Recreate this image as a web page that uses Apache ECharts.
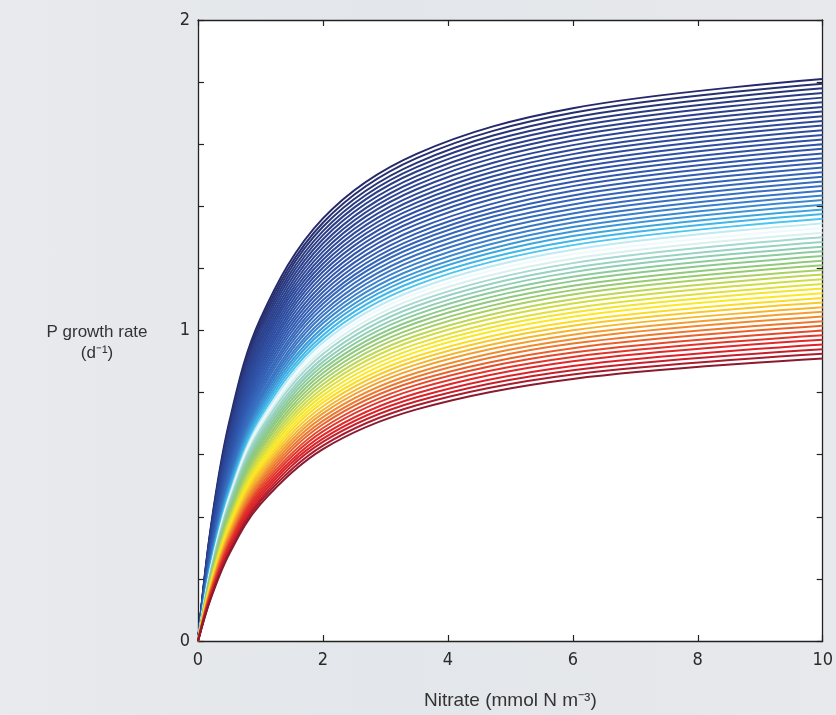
<!DOCTYPE html>
<html>
<head>
<meta charset="utf-8">
<script src="https://cdn.jsdelivr.net/npm/echarts@6/dist/echarts.min.js"></script>
<style>
  html, body { margin: 0; padding: 0; }
  body { background: linear-gradient(90deg, #e8eaed 0%, #e3e6ea 45%, #e7e9ec 100%); }
  #chart { width: 836px; height: 715px; }
</style>
</head>
<body>
<div id="chart"></div>
<script>
const NITRATE = [0.2, 0.5, 1, 2, 3.5, 6, 10];
const ORIGIN_RATE = 0; // every curve starts at the origin

// P growth rate (d-1) of each curve, top (dark blue) to bottom (dark red)
const RATE_AT_0_2 = [
  0.359, 0.354, 0.350, 0.345, 0.341, 0.337, 0.332, 0.328, 0.323, 0.319,
  0.315, 0.311, 0.306, 0.302, 0.298, 0.294, 0.290, 0.286, 0.282, 0.278,
  0.274, 0.270, 0.266, 0.262, 0.258, 0.254, 0.250, 0.246, 0.242, 0.239,
  0.235, 0.231, 0.228, 0.224, 0.220, 0.217, 0.213, 0.209, 0.206, 0.202,
  0.199, 0.195, 0.192, 0.188, 0.185, 0.182, 0.178, 0.175, 0.172, 0.168,
  0.165, 0.162, 0.159, 0.156, 0.152, 0.149, 0.146, 0.143, 0.140, 0.137,
  0.134
];
const RATE_AT_0_5 = [
  0.705, 0.696, 0.688, 0.680, 0.672, 0.664, 0.656, 0.648, 0.640, 0.632,
  0.624, 0.616, 0.608, 0.600, 0.593, 0.585, 0.577, 0.570, 0.562, 0.555,
  0.547, 0.540, 0.532, 0.525, 0.517, 0.510, 0.503, 0.496, 0.489, 0.481,
  0.474, 0.467, 0.460, 0.453, 0.446, 0.439, 0.433, 0.426, 0.419, 0.412,
  0.406, 0.399, 0.392, 0.386, 0.379, 0.373, 0.366, 0.360, 0.354, 0.347,
  0.341, 0.335, 0.329, 0.322, 0.316, 0.310, 0.304, 0.298, 0.292, 0.286,
  0.280
];
const RATE_AT_1 = [
  1.038, 1.027, 1.016, 1.005, 0.994, 0.982, 0.971, 0.960, 0.949, 0.939,
  0.928, 0.917, 0.906, 0.895, 0.885, 0.874, 0.863, 0.853, 0.842, 0.832,
  0.821, 0.811, 0.801, 0.790, 0.780, 0.770, 0.760, 0.750, 0.740, 0.730,
  0.720, 0.710, 0.700, 0.690, 0.680, 0.670, 0.661, 0.651, 0.641, 0.632,
  0.622, 0.613, 0.603, 0.594, 0.585, 0.575, 0.566, 0.557, 0.548, 0.539,
  0.529, 0.520, 0.511, 0.502, 0.494, 0.485, 0.476, 0.467, 0.458, 0.450,
  0.441
];
const RATE_AT_2 = [
  1.361, 1.347, 1.334, 1.320, 1.307, 1.294, 1.280, 1.267, 1.254, 1.241,
  1.228, 1.215, 1.202, 1.189, 1.176, 1.163, 1.150, 1.137, 1.124, 1.111,
  1.098, 1.086, 1.073, 1.060, 1.048, 1.035, 1.023, 1.010, 0.998, 0.985,
  0.973, 0.961, 0.948, 0.936, 0.924, 0.911, 0.899, 0.887, 0.875, 0.863,
  0.851, 0.839, 0.827, 0.815, 0.803, 0.791, 0.779, 0.768, 0.756, 0.744,
  0.733, 0.721, 0.709, 0.698, 0.686, 0.675, 0.663, 0.652, 0.641, 0.629,
  0.618
];
const RATE_AT_3_5 = [
  1.569, 1.555, 1.540, 1.526, 1.512, 1.497, 1.483, 1.469, 1.455, 1.440,
  1.426, 1.412, 1.398, 1.384, 1.370, 1.356, 1.342, 1.327, 1.313, 1.299,
  1.286, 1.272, 1.258, 1.244, 1.230, 1.216, 1.202, 1.188, 1.175, 1.161,
  1.147, 1.133, 1.120, 1.106, 1.092, 1.079, 1.065, 1.052, 1.038, 1.025,
  1.011, 0.998, 0.984, 0.971, 0.957, 0.944, 0.931, 0.917, 0.904, 0.891,
  0.878, 0.864, 0.851, 0.838, 0.825, 0.812, 0.798, 0.785, 0.772, 0.759,
  0.746
];
const RATE_AT_6 = [
  1.716, 1.701, 1.686, 1.671, 1.656, 1.641, 1.627, 1.612, 1.597, 1.582,
  1.568, 1.553, 1.538, 1.523, 1.509, 1.494, 1.479, 1.465, 1.450, 1.435,
  1.421, 1.406, 1.391, 1.377, 1.362, 1.348, 1.333, 1.319, 1.304, 1.289,
  1.275, 1.260, 1.246, 1.231, 1.217, 1.202, 1.188, 1.173, 1.159, 1.144,
  1.130, 1.116, 1.101, 1.087, 1.072, 1.058, 1.044, 1.029, 1.015, 1.001,
  0.986, 0.972, 0.958, 0.943, 0.929, 0.915, 0.901, 0.886, 0.872, 0.858,
  0.844
];
const RATE_AT_10 = [
  1.810, 1.795, 1.780, 1.765, 1.750, 1.735, 1.720, 1.705, 1.690, 1.675,
  1.660, 1.645, 1.630, 1.615, 1.600, 1.585, 1.570, 1.555, 1.540, 1.525,
  1.510, 1.495, 1.480, 1.465, 1.450, 1.435, 1.420, 1.405, 1.390, 1.375,
  1.360, 1.345, 1.330, 1.315, 1.300, 1.285, 1.270, 1.255, 1.240, 1.225,
  1.210, 1.195, 1.180, 1.165, 1.150, 1.135, 1.120, 1.105, 1.090, 1.075,
  1.060, 1.045, 1.030, 1.015, 1.000, 0.985, 0.970, 0.955, 0.940, 0.925,
  0.910
];
const RATE_COLUMNS = [RATE_AT_0_2, RATE_AT_0_5, RATE_AT_1, RATE_AT_2, RATE_AT_3_5, RATE_AT_6, RATE_AT_10];

const X_TICKS = { min: 0, max: 10, step: 2 };
const Y_TICKS = { min: 0, max: 2, step: 0.2 };

// one colour per curve, same order as the rate arrays
const CURVE_COLORS = [
  '#25286a', '#27306f', '#283575',
  '#2a3a80', '#2b3d86', '#2b3f8a', '#2c428e', '#2c4492', '#2c4695', '#2d4898',
  '#2d4a9b', '#2e4c9e', '#2e4ea1', '#2f50a4', '#2f52a6', '#3054a9',
  '#3057ac', '#315aaf', '#325db2', '#3360b5', '#3464b8', '#3568bb', '#366cbe', '#3770c1', '#3874c4',
  '#3a7fca', '#3b8ad0', '#3c96d6',
  '#3ba6de', '#40b6e8', '#4cc5ef',
  '#bfe9f3', '#eef9fb', '#d9f0ee',
  '#a5d8cf', '#98d2c2', '#90cdb2',
  '#8ccb9c', '#8cc98a', '#90c97c', '#98cb70', '#a8d065',
  '#bcd656', '#cfdc45', '#e0e03a',
  '#f2e52a', '#fce81f', '#fbdc22',
  '#f8c929', '#f5b52d',
  '#f29f30', '#ef8a2f', '#ec772d', '#e9622c',
  '#e5492b', '#e2352a', '#df2829', '#dc2228',
  '#c41f2b', '#a91c2d', '#8c1a2e'
];

const chart = echarts.init(document.getElementById('chart'));

const tickFont = {
  fontFamily: '"Liberation Sans Narrow", "Arial Narrow", "DejaVu Sans Condensed", sans-serif',
  fontSize: 18,
  color: '#2a2a2a'
};
const frameLine = { show: true, onZero: false, lineStyle: { color: '#222', width: 1.3 } };
const innerTick = { show: true, inside: true, length: 6, lineStyle: { color: '#222', width: 1.2 } };

const series = RATE_AT_10.map((_, i) => ({
  type: 'line',
  data: [[0, ORIGIN_RATE]].concat(NITRATE.map((n, j) => [n, RATE_COLUMNS[j][i]])),
  smooth: 0.35,
  symbol: 'none',
  silent: true,
  lineStyle: { width: 2, color: CURVE_COLORS[i] }
}));

chart.setOption({
  animation: false,
  backgroundColor: 'transparent',
  grid: {
    left: 198, right: 13, top: 20, bottom: 72,
    show: true, backgroundColor: '#ffffff', borderWidth: 0
  },
  xAxis: [
    {
      type: 'value', position: 'bottom',
      min: X_TICKS.min, max: X_TICKS.max, interval: X_TICKS.step,
      axisLine: frameLine, axisTick: innerTick,
      axisLabel: Object.assign({ margin: 10 }, tickFont),
      splitLine: { show: false },
      name: 'Nitrate (mmol N m\u207B\u00B3)',
      nameLocation: 'middle', nameGap: 50,
      nameTextStyle: { fontFamily: '"Liberation Sans", Arial, sans-serif', fontSize: 19, color: '#333' }
    },
    {
      type: 'value', position: 'top',
      min: X_TICKS.min, max: X_TICKS.max, interval: X_TICKS.step,
      axisLine: frameLine, axisTick: innerTick,
      axisLabel: { show: false }, splitLine: { show: false }
    }
  ],
  yAxis: [
    {
      type: 'value', position: 'left',
      min: Y_TICKS.min, max: Y_TICKS.max, interval: Y_TICKS.step,
      axisLine: frameLine, axisTick: innerTick,
      axisLabel: Object.assign({
        margin: 8,
        formatter: v => Math.abs(v - Math.round(v)) < 1e-6 ? String(Math.round(v)) : ''
      }, tickFont),
      splitLine: { show: false }
    },
    {
      type: 'value', position: 'right',
      min: Y_TICKS.min, max: Y_TICKS.max, interval: Y_TICKS.step,
      axisLine: frameLine, axisTick: innerTick,
      axisLabel: { show: false }, splitLine: { show: false }
    }
  ],
  graphic: [
    {
      type: 'text', x: 97, y: 343,
      style: {
        text: 'P growth rate\n(d\u207B\u00B9)',
        font: '17px "Liberation Sans", Arial, sans-serif',
        fill: '#333', align: 'center', verticalAlign: 'middle', lineHeight: 21
      }
    }
  ],
  series: series
});
</script>
</body>
</html>
